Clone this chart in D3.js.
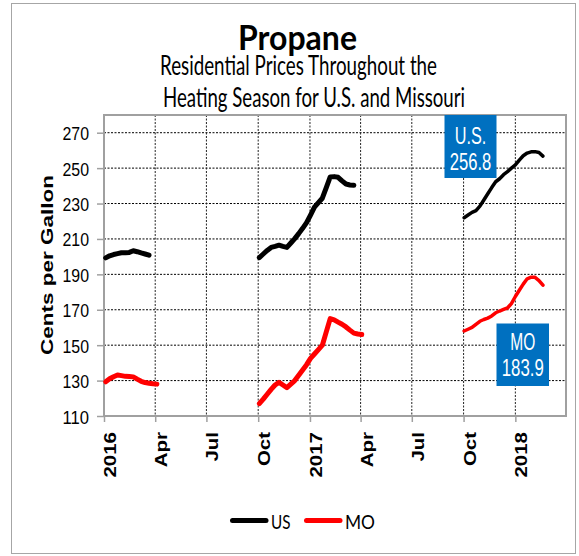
<!DOCTYPE html>
<html>
<head>
<meta charset="utf-8">
<script src="https://cdn.jsdelivr.net/npm/d3@7"></script>
<style>
  body { margin: 0; background: #fff; }
  svg { display: block; }
</style>
</head>
<body>
<svg id="chart" width="579" height="556"></svg>
<script>
// weekly survey dates, one list per heating season
const weeks1 = ["2016-01-04", "2016-01-11", "2016-01-18", "2016-01-25", "2016-02-01", "2016-02-08", "2016-02-15",
  "2016-02-22", "2016-02-29", "2016-03-07", "2016-03-14", "2016-03-21", "2016-03-28", "2016-04-04"];
const weeks2 = ["2016-10-03", "2016-10-10", "2016-10-17", "2016-10-24", "2016-10-31", "2016-11-07", "2016-11-14",
  "2016-11-21", "2016-11-28", "2016-12-05", "2016-12-12", "2016-12-19", "2016-12-26", "2017-01-02", "2017-01-09",
  "2017-01-16", "2017-01-23", "2017-01-30", "2017-02-06", "2017-02-13", "2017-02-20", "2017-02-27", "2017-03-06",
  "2017-03-13", "2017-03-20", "2017-03-27", "2017-04-03"];
const weeks3 = ["2017-10-02", "2017-10-09", "2017-10-16", "2017-10-23", "2017-10-30", "2017-11-06", "2017-11-13",
  "2017-11-20", "2017-11-27", "2017-12-04", "2017-12-11", "2017-12-18", "2017-12-25", "2018-01-01", "2018-01-08",
  "2018-01-15", "2018-01-22", "2018-01-29", "2018-02-05", "2018-02-12", "2018-02-19"];

// cents per gallon
const us1 = [199.3, 200.5, 201.2, 201.7, 202.2, 202.2, 202.4, 203.3, 202.8, 202.1, 201.5, 200.8];
const mo1 = [129.3, 131, 132.2, 133.2, 132.8, 132.4, 132.3, 132.1, 130.8, 129.6, 128.9, 128.5, 128.2, 128];
const us2 = [199.5, 201.5, 203.5, 205.2, 205.8, 206.5, 205.8, 205.2, 207.7, 210.2, 213, 216, 219.2, 223.5, 228,
  230.5, 233, 239, 245, 245.2, 244.8, 242.8, 241, 240.5, 240.3];
const mo2 = [117, 119.5, 122.3, 125, 127.5, 129, 127.5, 126, 128, 130, 133, 136, 139, 142.5, 145, 147.5, 150,
  157.5, 165, 164.3, 163, 161.8, 160.3, 158.5, 156.8, 156.3, 156];
const us3 = [222, 223.5, 225, 226, 228.5, 232, 235.5, 239, 242.3, 244, 246.3, 248, 250, 251.8, 254.5, 257, 258.5,
  259.2, 259.3, 258.8, 256.8];
const mo3 = [158, 159, 160, 161.8, 163.5, 164.5, 165.3, 166.5, 168.3, 169.3, 170.2, 171, 173.5, 177.5, 181, 184.5,
  187.5, 188.4, 188.3, 186.5, 183.9];

const seriesNames = ["US", "MO"];
const yTicks = [110, 130, 150, 170, 190, 210, 230, 250, 270];
const xTicks = ["2016-01-01", "2016-04-01", "2016-07-01", "2016-10-01", "2017-01-01", "2017-04-01",
  "2017-07-01", "2017-10-01", "2018-01-01"];
const xTickLabels = ["2016", "Apr", "Jul", "Oct", "2017", "Apr", "Jul", "Oct", "2018"];

const parse = d3.timeParse("%Y-%m-%d");
const svg = d3.select("#chart");

// outer frame
svg.append("rect")
  .attr("x", 11.5).attr("y", 3.5).attr("width", 564).attr("height", 550)
  .attr("fill", "none").attr("stroke", "#a6a6a6").attr("stroke-width", 1);

const plotL = 104, plotR = 566, plotT = 115, plotB = 416;
const x = d3.scaleTime().domain([parse("2016-01-01"), parse("2018-04-01")]).range([plotL, plotR]);
const y = d3.scaleLinear().domain([110, 280]).range([plotB, plotT]);

// grid
svg.append("g").selectAll("line").data(yTicks.slice(1)).join("line")
  .attr("x1", plotL).attr("x2", plotR)
  .attr("y1", d => y(d)).attr("y2", d => y(d))
  .attr("stroke", "#000").attr("stroke-width", 1).attr("stroke-dasharray", "2,1.5");

svg.append("g").selectAll("line").data(xTicks.slice(1)).join("line")
  .attr("x1", d => x(parse(d))).attr("x2", d => x(parse(d)))
  .attr("y1", plotT).attr("y2", plotB)
  .attr("stroke", "#222").attr("stroke-width", 1).attr("stroke-dasharray", "2,1.5");

// axes
const yAxis = svg.append("g")
  .attr("transform", `translate(${plotL},0)`)
  .call(d3.axisLeft(y).tickValues(yTicks).tickSize(7).tickPadding(8));
yAxis.select(".domain").remove();
yAxis.selectAll(".tick line").attr("stroke", "#a0a0a0").attr("stroke-width", 1.5);
yAxis.selectAll(".tick text")
  .attr("font-family", "'Liberation Sans Narrow', 'Liberation Sans', Arial, sans-serif")
  .attr("font-size", 18.5).attr("fill", "#000")
  .attr("textLength", 26.5).attr("lengthAdjust", "spacingAndGlyphs")
  .attr("dy", "0.38em");

const xAxis = svg.append("g")
  .attr("transform", `translate(0,${plotB})`)
  .call(d3.axisBottom(x).tickValues(xTicks.map(parse)).tickSize(6).tickFormat((d, i) => xTickLabels[i]));
xAxis.select(".domain").remove();
xAxis.selectAll(".tick line").attr("stroke", "#a0a0a0").attr("stroke-width", 1.5);
xAxis.selectAll(".tick text")
  .attr("font-family", "'Liberation Sans', Arial, sans-serif")
  .attr("font-weight", "bold").attr("font-size", 16).attr("fill", "#000")
  .attr("text-anchor", "end").attr("y", 0).attr("dy", 0)
  .attr("transform", "translate(11.5,16) rotate(-90) scale(1.28,1)");

// plot frame
svg.append("rect")
  .attr("x", plotL).attr("y", plotT).attr("width", plotR - plotL).attr("height", plotB - plotT)
  .attr("fill", "none").attr("stroke", "#a0a0a0").attr("stroke-width", 2);

// y title
svg.append("text")
  .attr("transform", "translate(53,265) rotate(-90)")
  .attr("text-anchor", "middle")
  .attr("font-family", "'Liberation Sans', Arial, sans-serif")
  .attr("font-weight", "bold").attr("font-size", 17)
  .attr("textLength", 180).attr("lengthAdjust", "spacingAndGlyphs")
  .text("Cents per Gallon");

// lines
const line = d3.line().x(d => x(d.date)).y(d => y(d.value));
const seasons = [
  { weeks: weeks1, us: us1, mo: mo1, width: 5 },
  { weeks: weeks2, us: us2, mo: mo2, width: 5 },
  { weeks: weeks3, us: us3, mo: mo3, width: 3.5 }
];
const colors = { US: "#000000", MO: "#ff0000" };

seasons.forEach(s => {
  [["US", s.us], ["MO", s.mo]].forEach(([name, vals]) => {
    const pts = vals.map((v, i) => ({ date: parse(s.weeks[i]), value: v }));
    svg.append("path")
      .datum(pts)
      .attr("d", line)
      .attr("fill", "none")
      .attr("stroke", colors[name])
      .attr("stroke-width", s.width)
      .attr("stroke-linecap", "round")
      .attr("stroke-linejoin", "round");
  });
});

// latest value call-outs
function callout(x0, y0, w, h, lines, baselines, lengths) {
  svg.append("rect").attr("x", x0).attr("y", y0).attr("width", w).attr("height", h).attr("fill", "#0070c0");
  lines.forEach((t, i) => {
    svg.append("text")
      .attr("x", x0 + w / 2).attr("y", baselines[i])
      .attr("text-anchor", "middle")
      .attr("font-family", "'Liberation Sans Narrow', 'Liberation Sans', Arial, sans-serif")
      .attr("font-size", 24).attr("fill", "#fff")
      .attr("textLength", lengths[i]).attr("lengthAdjust", "spacingAndGlyphs")
      .text(t);
  });
}
callout(444.5, 115, 52, 63, ["U.S.", us3[us3.length - 1].toFixed(1)], [143.5, 170], [31.5, 41.5]);
callout(496.5, 323.5, 52.5, 62.5, ["MO", mo3[mo3.length - 1].toFixed(1)], [350, 375.5], [25, 42]);

// titles
const titleFont = "Lato, 'Open Sans', sans-serif";
svg.append("text").attr("x", 238).attr("y", 50)
  .attr("font-family", titleFont).attr("font-weight", "bold").attr("font-size", 35)
  .attr("textLength", 119).attr("lengthAdjust", "spacingAndGlyphs")
  .text("Propane");
svg.append("text").attr("x", 160).attr("y", 75)
  .attr("font-family", titleFont).attr("font-size", 27)
  .attr("textLength", 277).attr("lengthAdjust", "spacingAndGlyphs")
  .text("Residential Prices Throughout the");
svg.append("text").attr("x", 163).attr("y", 107)
  .attr("font-family", titleFont).attr("font-size", 27)
  .attr("textLength", 302).attr("lengthAdjust", "spacingAndGlyphs")
  .text("Heating Season for U.S. and Missouri");

// legend
const legendX = [232.5, 306.5];
const legendText = [19.5, 30];
seriesNames.forEach((name, i) => {
  svg.append("line")
    .attr("x1", legendX[i]).attr("x2", legendX[i] + 33.5)
    .attr("y1", 520.5).attr("y2", 520.5)
    .attr("stroke", colors[name]).attr("stroke-width", 5).attr("stroke-linecap", "round");
  svg.append("text")
    .attr("x", legendX[i] + 38.5).attr("y", 528.5)
    .attr("font-family", titleFont).attr("font-size", 19)
    .attr("textLength", legendText[i]).attr("lengthAdjust", "spacingAndGlyphs")
    .text(name);
});
</script>
</body>
</html>
